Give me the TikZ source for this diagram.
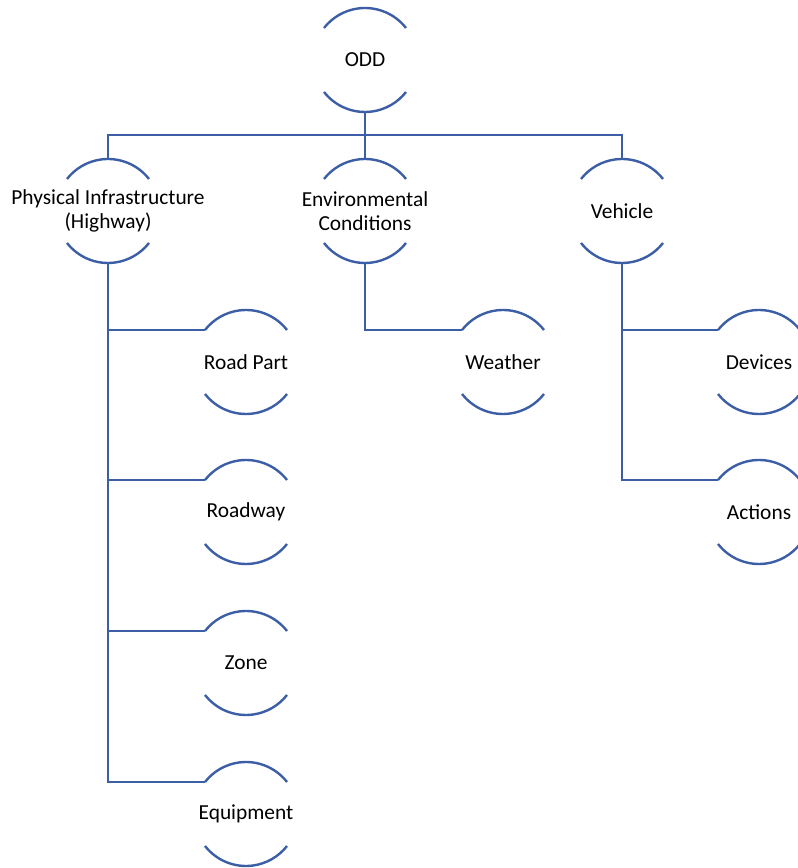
\documentclass[tikz,border=0pt]{standalone}
\usepackage{fontspec}
\setmainfont{Carlito}
\definecolor{linkblue}{RGB}{60,94,166}
\begin{document}
\begin{tikzpicture}[x=1pt,y=1pt,
  item/.style={rectangle,minimum width=104pt,minimum height=104pt,inner sep=0pt,
    draw=none,align=center,font=\fontsize{21.4}{24}\selectfont},
  link/.style={draw=linkblue,line width=2.4pt},
  rim/.style={draw=linkblue,line width=2.4pt}]
\useasboundingbox (0,0) rectangle (798,868);
\node[item] (odd) at (365,808) {ODD};
\node[item] (phys) at (108,657) {Physical Infrastructure\\(Highway)};
\node[item] (env) at (365,657) {Environmental\\Conditions};
\node[item] (veh) at (622,657) {Vehicle};
\node[item] (road) at (246,506) {Road Part};
\node[item] (roadway) at (246,356) {Roadway};
\node[item] (zone) at (246,205) {Zone};
\node[item] (equip) at (246,54) {Equipment};
\node[item] (weather) at (503,506) {Weather};
\node[item] (dev) at (759,506) {Devices};
\node[item] (act) at (759,356) {Actions};
% upper and lower rims of every circle (radius 52pt)
\foreach \n in {odd,phys,env,veh,road,roadway,zone,equip,weather,dev,act}{
  \draw[rim] ([shift={(38:52pt)}]\n.center) arc (38:142:52pt);
  \draw[rim] ([shift={(218:52pt)}]\n.center) arc (218:322:52pt);
}
% connectors
\coordinate (bus) at (365,733);
\draw[link] (odd.south) -- (bus);
\draw[link] (phys.north) |- (bus) -| (veh.north);
\draw[link] (bus) -- (env.north);
\draw[link] (phys.south) |- ([shift={(142:52pt)}]equip.center);
\draw[link] (phys.south) |- ([shift={(142:52pt)}]road.center);
\draw[link] (phys.south) |- ([shift={(142:52pt)}]roadway.center);
\draw[link] (phys.south) |- ([shift={(142:52pt)}]zone.center);
\draw[link] (env.south) |- ([shift={(142:52pt)}]weather.center);
\draw[link] (veh.south) |- ([shift={(142:52pt)}]dev.center);
\draw[link] (veh.south) |- ([shift={(142:52pt)}]act.center);
\end{tikzpicture}
\end{document}
